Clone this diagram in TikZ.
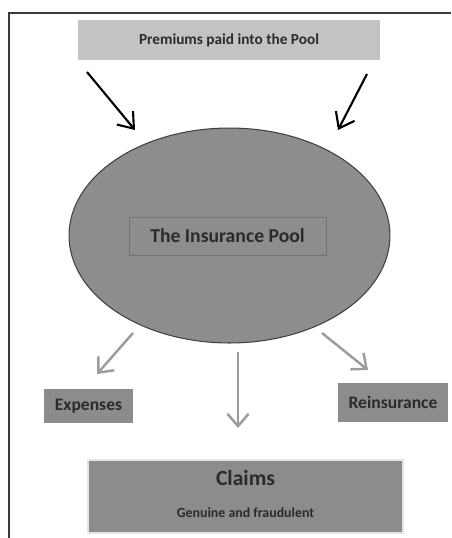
\documentclass[tikz,border=0pt]{standalone}
\usepackage{fontspec}
\setmainfont{Carlito}
\usepackage{tikz}
\usetikzlibrary{positioning,arrows.meta,shapes.geometric}
\definecolor{poolgray}{HTML}{8D8D8F}
\definecolor{boxgray}{HTML}{8C8C8E}
\definecolor{topgray}{HTML}{C3C3C3}
\definecolor{arrowgray}{HTML}{9C9C9C}
\definecolor{textgray}{HTML}{2B2B2B}
\definecolor{framegray}{HTML}{3A3A3A}

\begin{document}
\begin{tikzpicture}[x=0.02cm,y=-0.02cm,
    font=\bfseries, text=textgray,
    inflow/.style={draw=black, line width=1.2pt, -{Straight Barb[length=8pt,width=12pt,line width=1.2pt]}},
    outflow/.style={draw=arrowgray, line width=1.4pt, -{Straight Barb[length=7pt,width=12pt,line width=1.4pt]}},
    costbox/.style={fill=boxgray, inner sep=0pt}
    ]
    \useasboundingbox (0,0) rectangle (451,538);
    % frame
    \draw[framegray, line width=1.1pt] (9,538) -- (9,13) -- (451,13);

    \node[fill=topgray, minimum width=6.04cm, minimum height=0.8cm, inner sep=0pt, font=\bfseries\fontsize{8.7}{10}\selectfont] (premiums) at (229,40) {Premiums paid into the Pool};

    \node[ellipse, fill=poolgray, draw=black!75, line width=0.6pt, minimum width=6.42cm, minimum height=4.3cm, inner sep=0pt] (pool) at (229.5,235.5) {};
    \node[draw=black!55, line width=0.4pt, minimum width=3.94cm, minimum height=0.76cm, inner sep=0pt, font=\bfseries\fontsize{11.2}{13}\selectfont] (poollabel) at (227.5,236) {The Insurance Pool};

    \node[costbox, minimum width=1.78cm, minimum height=0.68cm, font=\bfseries\fontsize{10}{12}\selectfont] (expenses) at (88.5,406) {Expenses};
    \node[costbox, minimum width=2.2cm, minimum height=0.78cm, font=\bfseries\fontsize{10}{12}\selectfont] (reinsurance) at (393,402) {Reinsurance};
    \node[costbox, draw=black!10, line width=1.2pt, minimum width=6.3cm, minimum height=1.46cm] (claims) at (245.5,496.5) {};
    \node[font=\bfseries\fontsize{12.3}{14}\selectfont] (claimstitle) at (245.5,478) {Claims};
    \node[font=\bfseries\fontsize{7.9}{9}\selectfont] (claimsnote) at (245.5,513) {Genuine and fraudulent};

    % arrow ends
    \coordinate (inL) at (87,72);
    \coordinate (inLtip) at (135,130);
    \coordinate (inR) at (367,74);
    \coordinate (inRtip) at (338,130);
    \coordinate (outL) at (133,333);
    \coordinate (outLtip) at (97,374);
    \coordinate (outC) at (238,352);
    \coordinate (outCtip) at (238,428);
    \coordinate (outR) at (322,333);
    \coordinate (outRtip) at (368,370);

    \draw[inflow] (inL) -- (inLtip);
    \draw[inflow] (inR) -- (inRtip);
    \draw[outflow] (outL) -- (outLtip);
    \draw[outflow] (outC) -- (outCtip);
    \draw[outflow] (outR) -- (outRtip);
\end{tikzpicture}
\end{document}
